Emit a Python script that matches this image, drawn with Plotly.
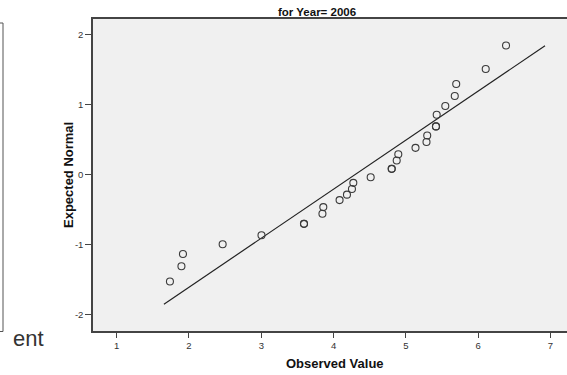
import plotly.graph_objects as go

observed = [6.385, 6.104, 5.696, 5.676, 5.545, 5.426, 5.416, 5.416, 5.295, 5.285,
            5.133, 4.895, 4.873, 4.804, 4.804, 4.513, 4.273, 4.254, 4.185, 4.083,
            3.858, 3.846, 3.591, 3.591, 3.003, 2.466, 1.917, 1.896, 1.737]
expected = [1.842, 1.507, 1.292, 1.121, 0.979, 0.855, 0.688, 0.688, 0.558, 0.466,
            0.382, 0.292, 0.202, 0.083, 0.083, -0.038, -0.117, -0.204, -0.285, -0.363,
            -0.463, -0.558, -0.702, -0.702, -0.865, -0.993, -1.132, -1.306, -1.524]

# Reference normal line endpoints
line_x = [1.654, 6.924]
line_y = [-1.848, 1.838]

x_ticks = [1, 2, 3, 4, 5, 6, 7]
y_ticks = [-2, -1, 0, 1, 2]

W, H = 567, 375
L, R, T, B = 93, 0, 19, 44
pw = W - L - R
ph = H - T - B

def px(x):
    return (x - L) / pw

def py(y):
    return (H - B - y) / ph

FONT = "Liberation Sans, Arial, sans-serif"

fig = go.Figure()
fig.add_trace(go.Scatter(x=line_x, y=line_y, mode="lines",
                         line=dict(color="#222222", width=1.2),
                         hoverinfo="skip", showlegend=False))
fig.add_trace(go.Scatter(x=observed, y=expected, mode="markers",
                         marker=dict(symbol="circle-open", size=7, color="#3a3a3a",
                                     line=dict(color="#3a3a3a", width=1.1)),
                         showlegend=False))

fig.update_layout(
    width=W, height=H,
    margin=dict(l=L, r=R, t=T, b=B),
    paper_bgcolor="white",
    plot_bgcolor="#f0f0f0",
    font=dict(family=FONT, color="#333333", size=10),
    showlegend=False,
)
fig.update_xaxes(range=[0.673, 7.228], tickvals=x_ticks, ticktext=[str(v) for v in x_ticks],
                 showgrid=False, zeroline=False, showline=True, linecolor="#444444",
                 linewidth=1.5, mirror=True, ticks="outside", ticklen=5, tickwidth=1,
                 tickcolor="#444444", tickfont=dict(size=9.5, color="#333333"))
fig.update_yaxes(range=[-2.23, 2.22], tickvals=y_ticks, ticktext=[str(v) for v in y_ticks],
                 showgrid=False, zeroline=False, showline=True, linecolor="#444444",
                 linewidth=1.5, mirror=False, ticks="outside", ticklen=6, tickwidth=1,
                 tickcolor="#444444", tickfont=dict(size=9.5, color="#333333"))

annotations = [
    dict(text="<b>for Year= 2006</b>", x=px(317), y=py(11.5), xref="paper", yref="paper",
         xanchor="center", yanchor="middle", showarrow=False,
         font=dict(size=11.5, color="#111111", family=FONT)),
    dict(text="<b>Observed Value</b>", x=px(334.5), y=py(363), xref="paper", yref="paper",
         xanchor="center", yanchor="middle", showarrow=False,
         font=dict(size=13, color="#111111", family=FONT)),
    dict(text="<b>Expected Normal</b>", x=px(68), y=py(175), xref="paper", yref="paper",
         xanchor="center", yanchor="middle", showarrow=False, textangle=-90,
         font=dict(size=13, color="#111111", family=FONT)),
    dict(text="ent", x=px(11), y=py(338), xref="paper", yref="paper",
         xanchor="left", yanchor="middle", showarrow=False,
         font=dict(size=22, color="#333333", family=FONT)),
]
fig.update_layout(annotations=annotations)

shapes = [
    dict(type="line", xref="paper", yref="paper", x0=px(3), x1=px(3), y0=py(23), y1=py(331.5),
         line=dict(color="#555555", width=1)),
    dict(type="line", xref="paper", yref="paper", x0=px(0), x1=px(3), y0=py(23), y1=py(23),
         line=dict(color="#555555", width=1)),
    dict(type="line", xref="paper", yref="paper", x0=px(0), x1=px(3), y0=py(331.5), y1=py(331.5),
         line=dict(color="#555555", width=1)),
]
fig.update_layout(shapes=shapes)

fig.write_html("out.html", config={"displayModeBar": False},
               post_script="document.body.style.margin='0';document.body.style.padding='0';")
